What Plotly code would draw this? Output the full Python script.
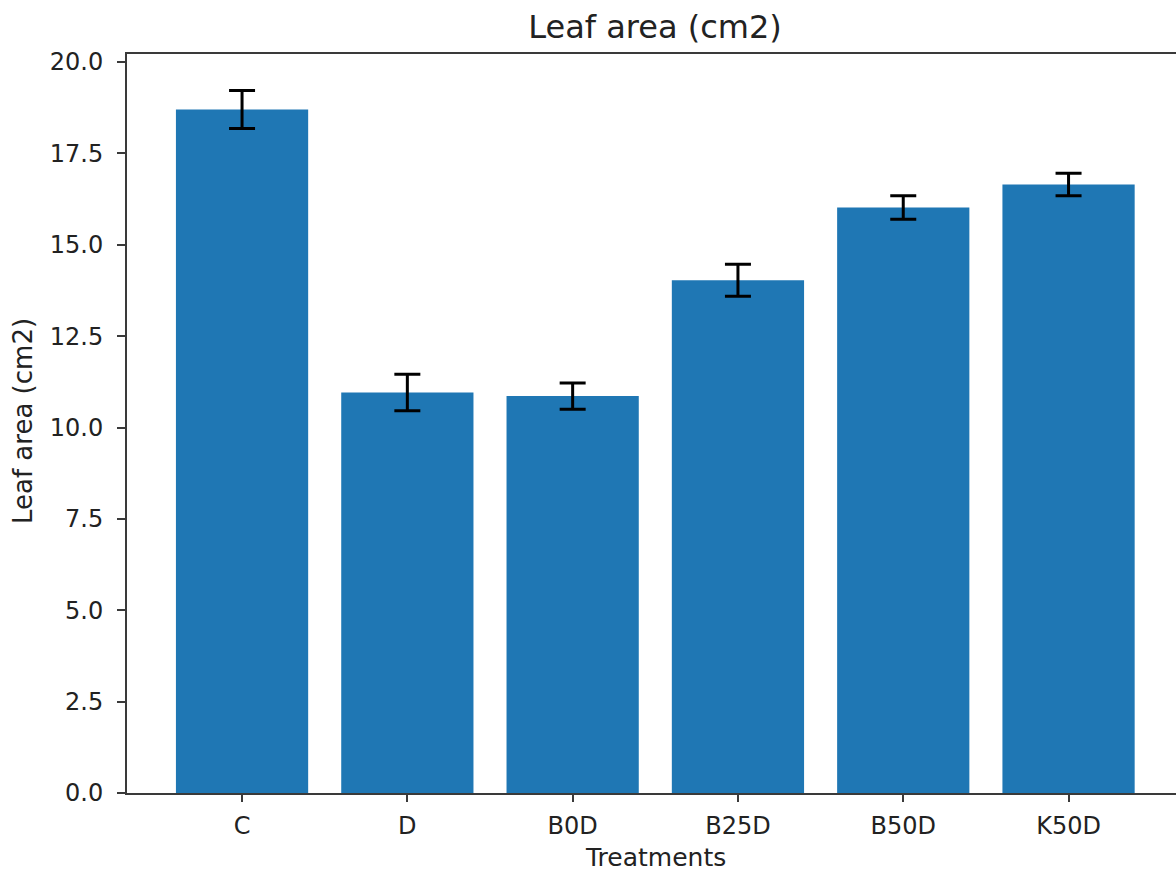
import plotly.graph_objects as go

treatments = ["C", "D", "B0D", "B25D", "B50D", "K50D"]
leaf_area = [18.70, 10.96, 10.86, 14.03, 16.02, 16.65]
leaf_area_err = [0.52, 0.50, 0.36, 0.44, 0.32, 0.31]
y_ticks = [0.0, 2.5, 5.0, 7.5, 10.0, 12.5, 15.0, 17.5, 20.0]

FONT = "DejaVu Sans"
TXT = "#222222"
AX = "#3a3a3a"

L, R, T, B = 127, 0, 54, 79
W, H = 1176, 872
pw, ph = W - L - R, H - T - B

fig = go.Figure()
fig.add_trace(go.Bar(
    x=list(range(len(treatments))),
    y=leaf_area,
    marker=dict(color="#1f77b4", line=dict(width=0)),
    error_y=dict(type="data", array=leaf_area_err, visible=True,
                 color="black", thickness=3, width=13),
))

fig.update_layout(
    width=W, height=H,
    margin=dict(l=L, r=R, t=T, b=B, pad=0, autoexpand=False),
    paper_bgcolor="white", plot_bgcolor="white",
    bargap=0.2, showlegend=False,
    font=dict(family=FONT, color=TXT, size=24),
    title=dict(text="Leaf area (cm2)", x=655 / W, xanchor="center",
               xref="container",
               y=1 - 27 / H, yanchor="middle", yref="container",
               font=dict(family=FONT, size=32, color=TXT)),
    annotations=[
        dict(text="Treatments", x=(655 - L) / pw, y=(H - B - 858) / ph,
             xref="paper", yref="paper", xanchor="center", yanchor="middle",
             showarrow=False, font=dict(family=FONT, size=25, color=TXT)),
        dict(text="Leaf area (cm2)", x=(23 - L) / pw, y=(H - B - 421) / ph,
             xref="paper", yref="paper", xanchor="center", yanchor="middle",
             textangle=-90, showarrow=False,
             font=dict(family=FONT, size=26, color=TXT)),
    ],
)

fig.update_xaxes(
    range=[-0.696, 5.65], automargin=False,
    tickmode="array", tickvals=list(range(len(treatments))), ticktext=treatments,
    showline=True, linecolor=AX, linewidth=2, mirror=True,
    ticks="outside", ticklen=7, tickwidth=2, tickcolor=AX,
    ticklabelstandoff=3,
    showgrid=False, zeroline=False,
    tickfont=dict(family=FONT, size=24, color=TXT),
)
fig.update_yaxes(
    range=[0, 20.22], automargin=False,
    tickmode="array", tickvals=y_ticks, ticktext=[f"{v:.1f}" for v in y_ticks],
    showline=True, linecolor=AX, linewidth=2, mirror=False,
    ticks="outside", ticklen=8, tickwidth=2, tickcolor=AX,
    ticklabelstandoff=9,
    showgrid=False, zeroline=False,
    tickfont=dict(family=FONT, size=24, color=TXT),
)

fig.write_html(
    "out.html",
    config={"displayModeBar": False},
    post_script="document.body.style.margin='0';document.body.style.padding='0';",
)
